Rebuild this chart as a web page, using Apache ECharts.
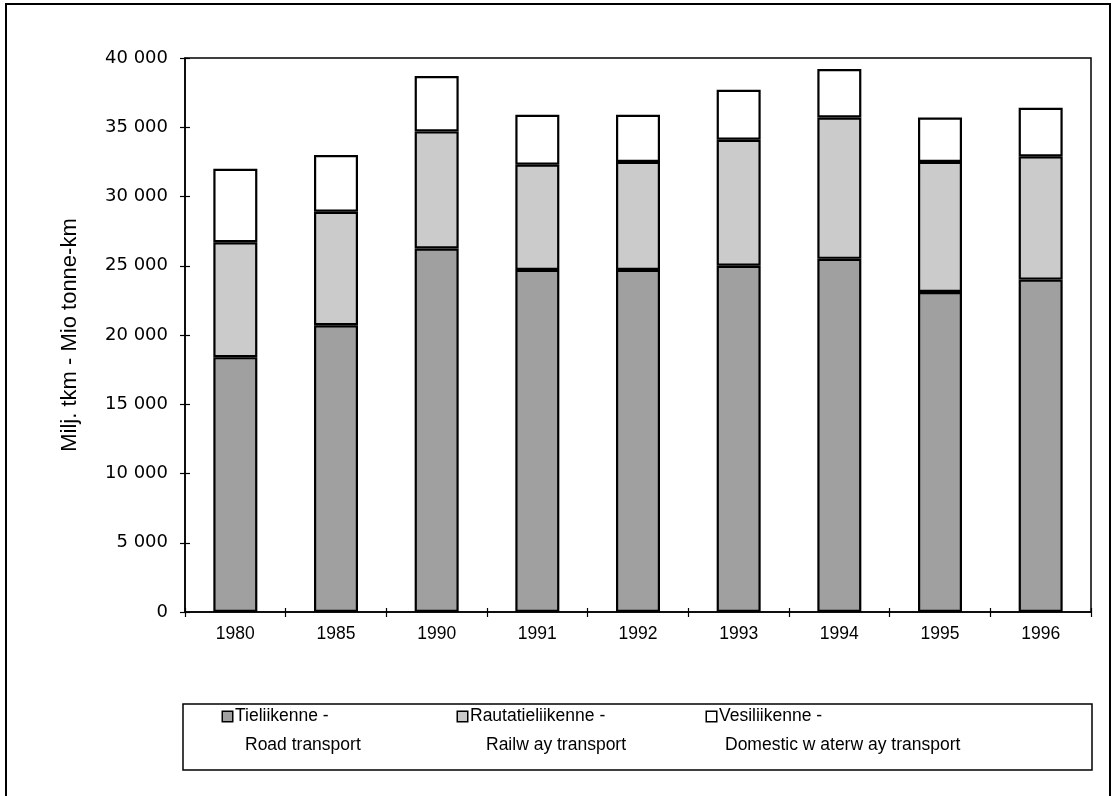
<!DOCTYPE html>
<html>
<head>
<meta charset="utf-8">
<script src="https://cdn.jsdelivr.net/npm/echarts@6/dist/echarts.min.js"></script>
<style>
html,body{margin:0;padding:0;background:#fff;}
#chart{width:1114px;height:796px;}
</style>
</head>
<body>
<div id="chart"></div>
<script>
const years = ['1980','1985','1990','1991','1992','1993','1994','1995','1996'];
const road  = [18400, 20700, 26250, 24700, 24700, 25000, 25500, 23100, 24000];
const rail  = [ 8300,  8200,  8450,  7600,  7800,  9100, 10200,  9400,  8900];
const water = [ 5300,  4100,  4000,  3600,  3400,  3600,  3500,  3200,  3500];
const yTicks = [0, 5000, 10000, 15000, 20000, 25000, 30000, 35000, 40000];
const seriesNames = ['Tieliikenne - Road transport', 'Rautatieliikenne - Railw ay transport', 'Vesiliikenne - Domestic w aterw ay transport'];
const legendLine1 = ['Tieliikenne -', 'Rautatieliikenne -', 'Vesiliikenne -'];
const legendLine2 = ['Road transport', 'Railw ay transport', 'Domestic w aterw ay transport'];
const yTitle = 'Milj. tkm - Mio tonne-km';

const colors = ['#a0a0a0', '#cbcbcb', '#ffffff'];
const FONT = 'Liberation Sans, Arial, sans-serif';

const chart = echarts.init(document.getElementById('chart'), null, {renderer:'canvas'});

function fmt(v){ return String(v).replace(/\B(?=(\d{3})+(?!\d))/g, ' '); }

const legendLefts = [217, 452, 701];
const indents = [22, 28, 18];
const legends = seriesNames.map((n, i) => ({
  data: [n],
  left: legendLefts[i],
  top: 702,
  padding: 0,
  itemWidth: 0,
  itemHeight: 0,
  itemGap: 0,
  icon: 'rect',
  selectedMode: false,
  formatter: () => '{box|}{a|' + legendLine1[i] + '}\n{b|' + legendLine2[i] + '}',
  textStyle: {
    fontFamily: FONT, fontSize: 17.5, color: '#000', lineHeight: 29,
    rich: {
      box: {width: 9, height: 9, backgroundColor: colors[i], borderColor: '#000', borderWidth: 1.5},
      a: {fontFamily: FONT, fontSize: 17.5, color: '#000', padding: [0,0,0,3], lineHeight: 29},
      b: {fontFamily: FONT, fontSize: 17.5, color: '#000', padding: [0,0,0,indents[i]], lineHeight: 29}
    }
  }
}));

const option = {
  animation: false,
  backgroundColor: '#fff',
  grid: {left: 185, top: 58, right: 23, bottom: 184, show: true, borderColor: '#000', borderWidth: 1.5, backgroundColor: 'transparent'},
  legend: legends,
  xAxis: [{
    type: 'category', data: years,
    axisLine: {lineStyle: {color: '#000', width: 1.5}},
    axisTick: {show: true, length: 5, lineStyle: {color: '#000', width: 1.2}},
    axisLabel: {color: '#000', fontFamily: FONT, fontSize: 17.5, margin: 13}
  }, {
    type: 'category', data: years, position: 'bottom',
    axisLine: {show: false},
    axisTick: {show: true, inside: true, length: 4, lineStyle: {color: '#000', width: 1.2}},
    axisLabel: {show: false}
  }],
  yAxis: [{
    type: 'value', min: 0, max: 40000, interval: 5000,
    name: yTitle, nameLocation: 'middle', nameGap: 104, nameRotate: 90,
    nameTextStyle: {color: '#000', fontFamily: FONT, fontSize: 22},
    axisLine: {show: true, lineStyle: {color: '#000', width: 1.5}},
    axisTick: {show: true, length: 5, lineStyle: {color: '#000', width: 1.2}},
    splitLine: {show: false},
    axisLabel: {color: '#000', fontFamily: 'DejaVu Sans, sans-serif', fontSize: 18, margin: 17,
      formatter: v => yTicks.includes(v) ? fmt(v) : ''}
  }, {
    type: 'value', min: 0, max: 40000, interval: 5000, position: 'left',
    axisLine: {show: false},
    axisTick: {show: true, inside: true, length: 5, lineStyle: {color: '#000', width: 1.2}},
    splitLine: {show: false}, axisLabel: {show: false}
  }],
  series: [road, rail, water].map((d, i) => ({
    name: seriesNames[i], type: 'bar', stack: 'total', data: d,
    barWidth: 44,
    itemStyle: {color: colors[i], borderColor: '#000', borderWidth: 2.2}
  })),
  graphic: [{
    type: 'rect', shape: {x: 6, y: 4, width: 1104, height: 800},
    style: {fill: 'none', stroke: '#000', lineWidth: 2}, silent: true
  }, {
    type: 'rect', shape: {x: 183, y: 704, width: 909, height: 66},
    style: {fill: 'none', stroke: '#000', lineWidth: 1.5}, silent: true
  }]
};
chart.setOption(option);
</script>
</body>
</html>
